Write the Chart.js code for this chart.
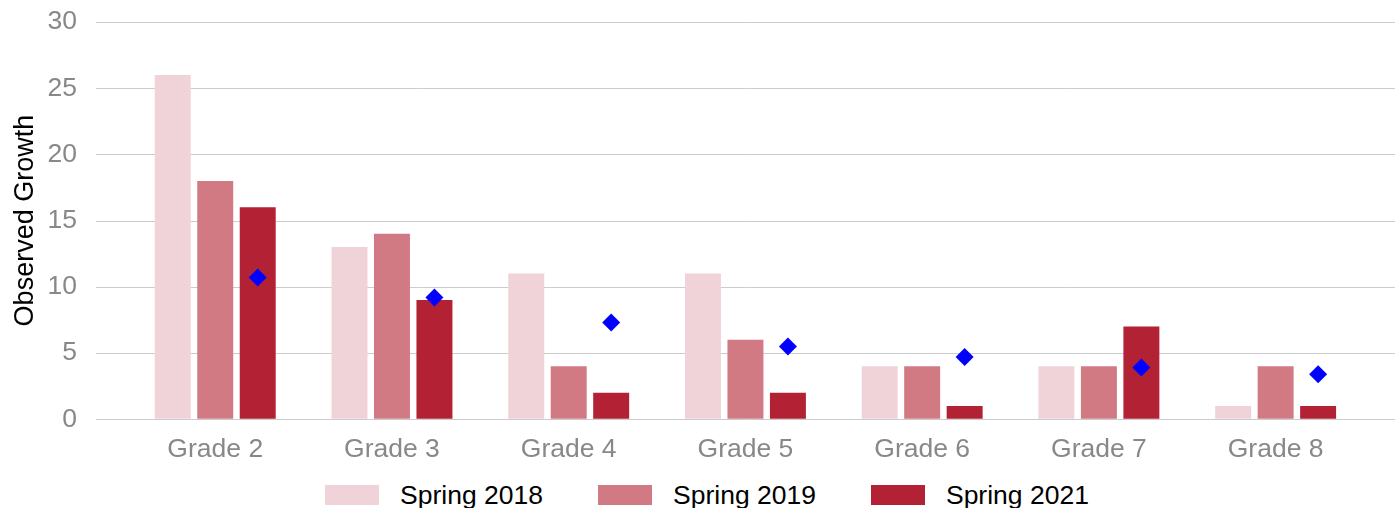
<!DOCTYPE html>
<html>
<head>
<meta charset="utf-8">
<script src="https://cdn.jsdelivr.net/npm/chart.js@4"></script>
<style>
  html, body { margin: 0; padding: 0; overflow: hidden; background: #fff; }
  .chart_box { width: 1400px; height: 477px; position: relative; }
  .legend_box {
    position: absolute; left: 0; top: 480px; width: 1400px; height: 30px;
    box-sizing: border-box; padding-left: 14px;
    display: flex; justify-content: center; align-items: center;
    font-family: 'Liberation Sans', Arial, sans-serif; font-size: 26.5px; line-height: 30px; color: #000;
  }
  .legend_item { display: flex; align-items: center; margin: 0 27.5px; }
  .legend_swatch { width: 54px; height: 20px; margin-right: 21px; }
</style>
</head>
<body>
<div class="chart_box"><canvas class="growth_canvas"></canvas></div>
<div class="legend_box"></div>
<script>
const grades = ['Grade 2', 'Grade 3', 'Grade 4', 'Grade 5', 'Grade 6', 'Grade 7', 'Grade 8'];
const spring2018 = [26, 13, 11, 11, 4, 4, 1];
const spring2019 = [18, 14, 4, 6, 4, 4, 4];
const spring2021 = [16, 9, 2, 2, 1, 7, 1];
const expected = [10.7, 9.2, 7.3, 5.5, 4.7, 3.9, 3.4];
const yTicks = [0, 5, 10, 15, 20, 25, 30];

const font = "'Liberation Sans', Arial, sans-serif";

// horizontal grid lines that run a bit past the plot area
const wideGrid = {
	id: 'wideGrid',
	beforeDatasetsDraw(chart) {
		const ctx = chart.ctx;
		const area = chart.chartArea;
		const y = chart.scales.y;
		ctx.save();
		ctx.strokeStyle = '#cccccc';
		ctx.lineWidth = 1;
		y.ticks.forEach(function(t) {
			const py = Math.round(y.getPixelForValue(t.value)) + 0.5;
			ctx.beginPath();
			ctx.moveTo(area.left - 31, py);
			ctx.lineTo(area.right + 31, py);
			ctx.stroke();
		});
		ctx.restore();
	}
};

// put the diamonds over the Spring 2021 bars
const alignDiamonds = {
	id: 'alignDiamonds',
	afterDatasetsUpdate(chart) {
		const bars = chart.getDatasetMeta(2).data;
		const pts = chart.getDatasetMeta(3).data;
		pts.forEach(function(p, i) {
			if (bars[i]) p.x = bars[i].x;
		});
	}
};

const ctx = document.querySelector('.growth_canvas');
const growth_chart = new Chart(ctx, {
	type: 'bar',
	data: {
		labels: grades,
		datasets: [
			{ label: 'Spring 2018', data: spring2018, backgroundColor: '#F0D3D8', order: 1 },
			{ label: 'Spring 2019', data: spring2019, backgroundColor: '#D27A84', order: 1 },
			{ label: 'Spring 2021', data: spring2021, backgroundColor: '#B22234', order: 1 },
			{
				type: 'line',
				label: 'Expected',
				data: expected,
				showLine: false,
				pointStyle: 'rectRot',
				pointRadius: 9,
				pointHoverRadius: 9,
				pointBackgroundColor: '#0000FF',
				pointBorderWidth: 0,
				borderColor: '#0000FF',
				order: 0
			}
		]
	},
	options: {
		responsive: true,
		maintainAspectRatio: false,
		animation: false,
		layout: { padding: { left: 9, right: 36, top: 22, bottom: 4 } },
		datasets: {
			bar: { categoryPercentage: 0.721, barPercentage: 0.847 }
		},
		scales: {
			x: {
				grid: { display: false },
				border: { display: false },
				ticks: { color: '#888888', font: { family: font, size: 26.5 }, padding: 7 },
				afterFit: function(axis) { axis.paddingLeft = 0; axis.paddingRight = 0; }
			},
			y: {
				min: 0,
				max: 30,
				afterBuildTicks: function(axis) {
					axis.ticks = yTicks.map(function(v) { return { value: v }; });
				},
				grid: { display: true, drawOnChartArea: false, drawTicks: true, tickLength: 47, tickColor: 'rgba(0,0,0,0)' },
				border: { display: false },
				ticks: { color: '#888888', font: { family: font, size: 26.5 }, padding: 3 },
				title: {
					display: true,
					text: 'Observed Growth',
					color: '#000000',
					font: { family: font, size: 27 },
					padding: { top: 0, bottom: 3 }
				},
				afterFit: function(axis) { axis.paddingTop = 0; axis.paddingBottom = 0; }
			}
		},
		plugins: {
			legend: { display: false },
			tooltip: { enabled: false }
		}
	},
	plugins: [wideGrid, alignDiamonds]
});

// legend built from the bar datasets
const legendBox = document.querySelector('.legend_box');
growth_chart.data.datasets.slice(0, 3).forEach(function(ds) {
	const item = document.createElement('div');
	item.className = 'legend_item';
	const sw = document.createElement('span');
	sw.className = 'legend_swatch';
	sw.style.background = ds.backgroundColor;
	const txt = document.createElement('span');
	txt.textContent = ds.label;
	item.appendChild(sw);
	item.appendChild(txt);
	legendBox.appendChild(item);
});
</script>
</body>
</html>
